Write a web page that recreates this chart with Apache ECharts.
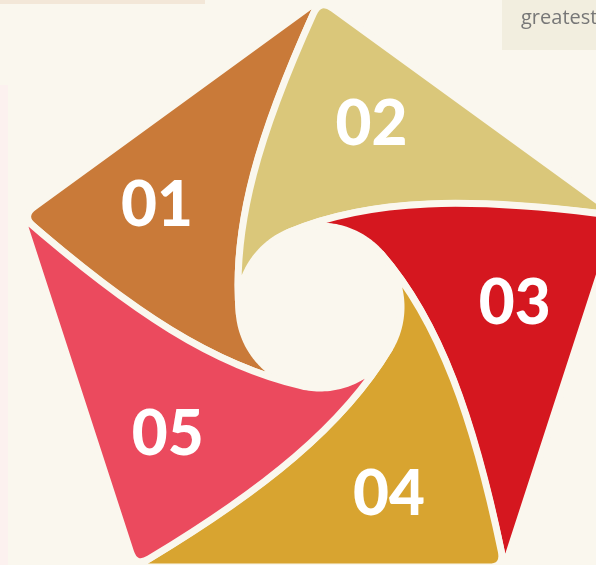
<!DOCTYPE html>
<html>
<head>
<meta charset="utf-8">
<script src="https://cdn.jsdelivr.net/npm/echarts@6/dist/echarts.min.js"></script>
<style>
html,body{margin:0;padding:0;background:#FAF7EE;}
#chart{width:596px;height:565px;}
</style>
</head>
<body>
<div id="chart"></div>
<script>
// ---- data ----
const labels = ['01', '02', '03', '04', '05'];
const shares = [1, 1, 1, 1, 1];
const colors = ['#C97A39', '#DAC77A', '#D5171F', '#D8A430', '#EB4A5E'];
const sideText = ['greatest'];

// ---- layout (pixels in a 1:1 cartesian grid) ----
const BG = '#FAF7EE';
const CX = 320, CY = 313, R = 314;      // pentagon
const HX = 320, HY = 307, HR = 81;      // hole
const START = 162;                      // angle of the first vertex (deg, math)
const ALPHA = 95;                       // where a spiral curve joins the hole
const A_IN = 0.43, B_PERP = 60, L_TAN = 90, RC = 16;
const LABEL_OFF = 20.7, LABEL_R = 195;

const total = shares.reduce((a, b) => a + b, 0);
const rad = d => d * Math.PI / 180;
function pt(c, r, deg) { return [c[0] + r * Math.cos(rad(deg)), c[1] - r * Math.sin(rad(deg))]; }

function curve(theta) { // spiral curve from the pentagon vertex at theta
  const V = pt([CX, CY], R, theta);
  const ux = HX - V[0], uy = HY - V[1];
  const n = Math.hypot(ux, uy);
  const P1 = [V[0] + A_IN * ux + B_PERP * (-uy / n), V[1] + A_IN * uy + B_PERP * (ux / n)];
  const phi = theta + ALPHA;
  const J = pt([HX, HY], HR, phi);
  const t = [-Math.sin(rad(phi)), -Math.cos(rad(phi))];
  const P2 = [J[0] - L_TAN * t[0], J[1] - L_TAN * t[1]];
  return { V, P1, P2, J, phi };
}

const chart = echarts.init(document.getElementById('chart'), null, { renderer: 'canvas' });

function renderItem(params, api) {
  const i = params.dataIndex;
  let cum = 0;
  for (let k = 0; k < i; k++) cum += shares[k];
  const thA = START - 360 * cum / total;
  const thB = thA - 360 * shares[i] / total;
  const cA = curve(thA), cB = curve(thB);
  const c = p => api.coord(p);
  const f = p => { const q = c(p); return q[0].toFixed(2) + ' ' + q[1].toFixed(2); };
  const A = cA.V, B = cB.V;
  const dAB = Math.hypot(B[0] - A[0], B[1] - A[1]);
  const Q2 = [A[0] + RC * (B[0] - A[0]) / dAB, A[1] + RC * (B[1] - A[1]) / dAB];
  const dA1 = Math.hypot(cA.P1[0] - A[0], cA.P1[1] - A[1]);
  const Q1 = [A[0] + RC * (cA.P1[0] - A[0]) / dA1, A[1] + RC * (cA.P1[1] - A[1]) / dA1];
  let d = 'M ' + f(Q2) + ' L ' + f(B) + ' C ' + f(cB.P1) + ' ' + f(cB.P2) + ' ' + f(cB.J);
  const a0 = cB.phi, a1 = cA.phi, n = 40;
  for (let k = 1; k <= n; k++) d += ' L ' + f(pt([HX, HY], HR, a0 + (a1 - a0) * k / n));
  d += ' C ' + f(cA.P2) + ' ' + f(cA.P1) + ' ' + f(Q1) + ' Q ' + f(A) + ' ' + f(Q2) + ' Z';
  const lp = c(pt([CX, CY], LABEL_R, (thA + thB) / 2 + LABEL_OFF));
  return {
    type: 'group',
    children: [
      { type: 'path', shape: { pathData: d }, style: { fill: colors[i], stroke: BG, lineWidth: 7, lineJoin: 'round' } },
      { type: 'text', style: { text: labels[i], x: lp[0], y: lp[1], fill: '#FFFFFF', fontSize: 62, fontWeight: 900, fontFamily: 'Lato', align: 'center', verticalAlign: 'middle' } }
    ]
  };
}

chart.setOption({
  backgroundColor: BG,
  animation: false,
  grid: { left: 0, right: 0, top: 0, bottom: 0 },
  xAxis: { type: 'value', min: 0, max: 596, show: false },
  yAxis: { type: 'value', min: 0, max: 565, inverse: true, show: false },
  graphic: [
    { type: 'rect', left: 0, top: 0, shape: { width: 205, height: 4 }, style: { fill: '#F3E7D8' } },
    { type: 'rect', left: 0, top: 85, shape: { width: 8, height: 480 }, style: { fill: '#FCF1EF' } },
    { type: 'rect', left: 502, top: 0, shape: { width: 94, height: 50 }, style: { fill: '#F2EEDF' } },
    { type: 'text', left: 521, top: 8, style: { text: sideText[0], fill: '#777777', fontSize: 20, fontFamily: 'Open Sans' } }
  ],
  series: [{
    type: 'custom',
    coordinateSystem: 'cartesian2d',
    renderItem: renderItem,
    data: labels.map((l, i) => [i, shares[i]]),
    silent: true
  }]
});
</script>
</body>
</html>
